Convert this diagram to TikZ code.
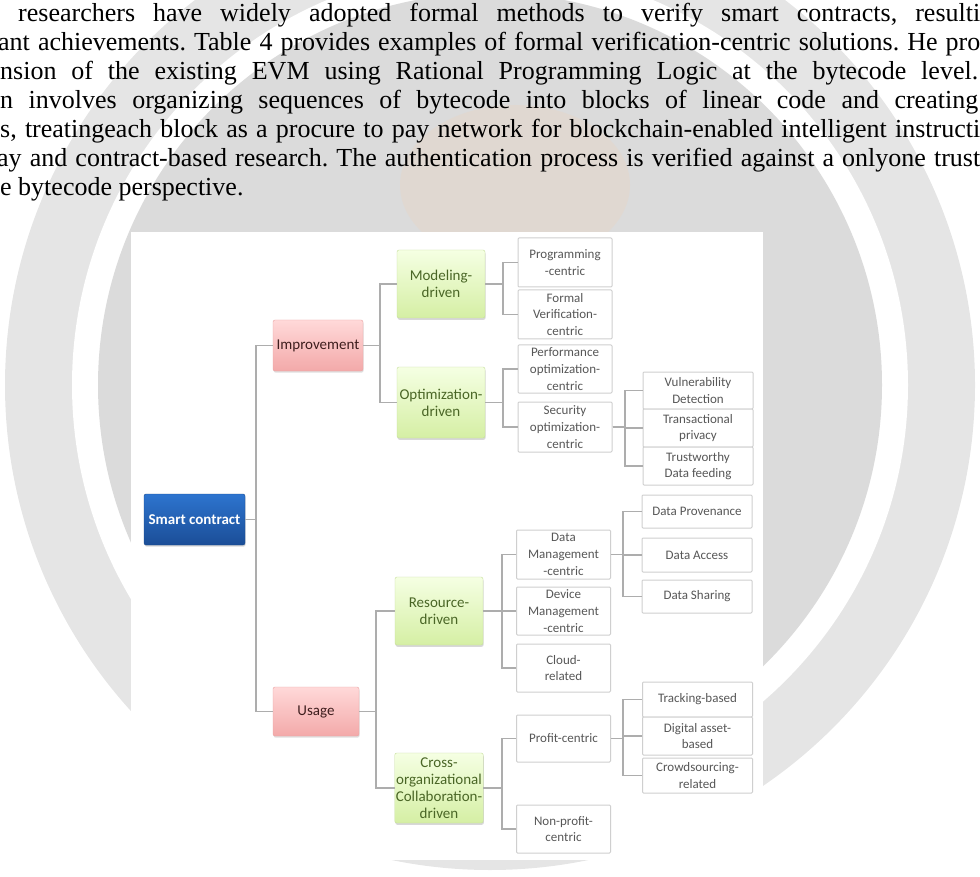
\documentclass[tikz,border=0pt]{standalone}
\usepackage{fontspec}
\setmainfont{Liberation Serif}
\newfontfamily\smartfont{Carlito}
\usepackage{xcolor}
\definecolor{roottop}{HTML}{2D74CF}
\definecolor{rootbot}{HTML}{1B4E97}
\definecolor{rootedge}{HTML}{1A4A8C}
\definecolor{pinktop}{HTML}{FFD9D9}
\definecolor{pinkbot}{HTML}{F3A9A9}
\definecolor{pinkedge}{HTML}{E9A3A3}
\definecolor{pinktext}{HTML}{3E1E1E}
\definecolor{greentop}{HTML}{F5FFE3}
\definecolor{greenbot}{HTML}{D5EFA4}
\definecolor{greenedge}{HTML}{C6DE9C}
\definecolor{greentext}{HTML}{4A6626}
\definecolor{leafedge}{HTML}{CFCFCF}
\definecolor{leaftext}{HTML}{575757}
\definecolor{linkgray}{HTML}{ADADAD}
\usetikzlibrary{shadows}
\tikzset{
  textline/.style = {anchor=base west,inner sep=0pt,
                     font=\fontsize{26}{29}\selectfont\frenchspacing},
  box/.style      = {draw,rounded corners=2pt,align=center,inner sep=1pt,
                     font=\smartfont\fontsize{15}{17}\selectfont},
  root/.style     = {box,draw=rootedge,top color=roottop,bottom color=rootbot,
                     text=white,font=\smartfont\bfseries\fontsize{15}{17}\selectfont,
                     drop shadow={shadow xshift=0.6pt,shadow yshift=-1.6pt,opacity=0.3}},
  branch/.style   = {box,draw=pinkedge,top color=pinktop,bottom color=pinkbot,
                     text=pinktext,
                     drop shadow={shadow xshift=0.6pt,shadow yshift=-1.6pt,opacity=0.25}},
  driven/.style   = {box,draw=greenedge,top color=greentop,bottom color=greenbot,
                     text=greentext,minimum width=88,
                     drop shadow={shadow xshift=0.6pt,shadow yshift=-1.8pt,opacity=0.3}},
  leaf/.style     = {draw=leafedge,fill=white,line width=1pt,rounded corners=1pt,
                     align=center,inner sep=1pt,text=leaftext,
                     font=\smartfont\fontsize{13}{16.7}\selectfont},
  leafa/.style    = {leaf,minimum width=94},
  leafb/.style    = {leaf,minimum width=110},
  link/.style     = {draw=linkgray,line width=1.1pt},
}

\begin{document}
\begin{tikzpicture}[x=1pt,y=-1pt]
  \useasboundingbox (0,0) rectangle (980,877);
  \clip (0,0) rectangle (980,877);

  % faint watermark behind the page
  \fill[black!10] (490,385) circle[radius=485];
  \fill[white] (490,385) circle[radius=418];
  \fill[black!14] (490,385) circle[radius=392];
  \fill[orange!40!white,opacity=0.14] (515,185) ellipse[x radius=115,y radius=80];

  % running text above the figure
  \node[textline] (l1) at (18,22)
       {\makebox[962pt][s]{researchers have widely adopted formal methods to verify smart contracts, resulti}};
  \node[textline] (l2) at (-2,51)
       {\makebox[982pt][s]{ant achievements. Table 4 provides examples of formal verification-centric solutions. He pro}};
  \node[textline] (l3) at (0,80)
       {\makebox[978pt][s]{nsion of the existing EVM using Rational Programming Logic at the bytecode level.}};
  \node[textline] (l4) at (0,109)
       {\makebox[978pt][s]{n involves organizing sequences of bytecode into blocks of linear code and creating}};
  \node[textline] (l5) at (0,138)
       {\makebox[980pt][s]{s, treatingeach block as a procure to pay network for blockchain-enabled intelligent instructi}};
  \node[textline] (l6) at (-3,167)
       {\makebox[983pt][s]{ay and contract-based research. The authentication process is verified against a onlyone trust}};
  \node[textline] (l7) at (0,196) {e bytecode perspective.};

  % figure area
  \fill[white] (131,232) rectangle (763,860);

  % root and first level
  \node[root,minimum width=101,minimum height=51] (sc) at (194.5,519.5) {Smart contract};
  \node[branch,minimum width=90,minimum height=51] (imp) at (318,345.5) {Improvement};
  \node[branch,minimum width=86,minimum height=49] (use) at (316,711.5) {Usage};

  % second level
  \node[driven,minimum height=68] (mod) at (441,284) {Modeling-\\driven};
  \node[driven,minimum height=71] (opt) at (441,402.5) {Optimization-\\driven};
  \node[driven,minimum height=68] (res) at (439,611) {Resource-\\driven};
  \node[driven,minimum height=70] (cro) at (439,788)
       {Cross-\\organizational\\Collaboration-\\driven};

  % third level
  \node[leafa,minimum height=49] (prog) at (565,262.5) {Programming\\-centric};
  \node[leafa,minimum height=49] (form) at (565,314.5) {Formal\\Verification-\\centric};
  \node[leafa,minimum height=48] (perf) at (565,369) {Performance\\optimization-\\centric};
  \node[leafa,minimum height=50] (secu) at (565,427) {Security\\optimization-\\centric};
  \node[leafa,minimum height=49] (dman) at (563.5,554.5) {Data\\Management\\-centric};
  \node[leafa,minimum height=48] (dev) at (563.5,611) {Device\\Management\\-centric};
  \node[leafa,minimum height=48] (clo) at (563.5,668) {Cloud-\\related};
  \node[leafa,minimum height=47] (prof) at (563.5,738.5) {Profit-centric};
  \node[leafa,minimum height=48] (nprof) at (563.5,829) {Non-profit-\\centric};

  % fourth level
  \node[leafb,minimum height=37] (vul) at (698,390.5) {Vulnerability\\Detection};
  \node[leafb,minimum height=38] (tra) at (698,428) {Transactional\\privacy};
  \node[leafb,minimum height=38] (tru) at (698,466) {Trustworthy\\Data feeding};
  \node[leafb,minimum height=33] (dprov) at (697,511.5) {Data Provenance};
  \node[leafb,minimum height=34] (dacc) at (697,555) {Data Access};
  \node[leafb,minimum height=33] (dsha) at (697,596.5) {Data Sharing};
  \node[leafb,minimum height=35] (trk) at (697.5,699.5) {Tracking-based};
  \node[leafb,minimum height=38] (dig) at (697.5,736) {Digital asset-\\based};
  \node[leafb,minimum height=35] (crd) at (697.5,775.5) {Crowdsourcing-\\related};

  % elbow connectors: parent / bus x / children
  \foreach \p/\b/\kids in {sc/256/{imp,use}, imp/380/{mod,opt}, use/376/{res,cro},
                           mod/503/{prog,form}, opt/503/{perf,secu},
                           secu/625/{vul,tra,tru}, res/502/{dman,dev,clo},
                           dman/623/{dprov,dacc,dsha}, cro/502/{prof,nprof},
                           prof/623/{trk,dig,crd}}{
    \foreach \k in \kids{
      \draw[link] (\p.east) -- (\p.east -| \b,0) |- (\k.west);
    }
  }
\end{tikzpicture}
\end{document}
